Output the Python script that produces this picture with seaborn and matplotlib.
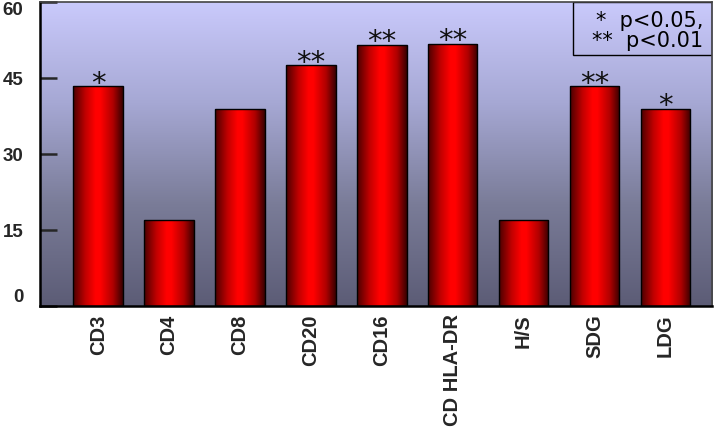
import numpy as np
import seaborn as sns
import matplotlib
matplotlib.use("Agg")
import matplotlib.pyplot as plt
import matplotlib.colors as mcolors
from matplotlib.patches import Rectangle

categories = ["CD3", "CD4", "CD8", "CD20", "CD16", "CD HLA-DR", "H/S", "SDG", "LDG"]
values = [43.4, 17.1, 39.0, 47.6, 51.6, 51.8, 17.1, 43.4, 39.0]
stars = ["*", "", "", "**", "**", "**", "", "**", "*"]
yticks = [0, 15, 30, 45, 60]
legend_lines = ["*  p<0.05,", "**  p<0.01"]

sns.set_style("white")
plt.rcParams["font.family"] = ["Liberation Sans", "DejaVu Sans"]

fig = plt.figure(figsize=(7.15, 4.30), dpi=100)
ax = fig.add_axes([0.056, 0.288, 0.940, 0.707])

sns.barplot(x=categories, y=values, ax=ax, color="red", edgecolor="black",
            linewidth=1.0, width=0.7, zorder=3)

# vertical background gradient (light lavender -> dark slate)
bg_cmap = mcolors.LinearSegmentedColormap.from_list(
    "bg", ["#5c5c76", "#7a7c98", "#a6a8d4", "#cacafc"])
bg = np.linspace(0, 1, 256).reshape(-1, 1)
ax.imshow(bg, extent=[0, 1, 0, 1], transform=ax.transAxes, aspect="auto",
          cmap=bg_cmap, origin="lower", zorder=0)

# horizontal shading inside each bar
bar_cmap = mcolors.LinearSegmentedColormap.from_list(
    "bar", [(0.0, "#4a0000"), (0.25, "#c00000"), (0.45, "#ff0000"),
            (0.55, "#ff0000"), (0.8, "#b00000"), (1.0, "#380000")])
grad = np.linspace(0, 1, 256).reshape(1, -1)
for patch in list(ax.patches):
    x0, y0 = patch.get_x(), patch.get_y()
    w, h = patch.get_width(), patch.get_height()
    patch.set_facecolor("none")
    im = ax.imshow(grad, extent=[x0, x0 + w, y0, y0 + h], aspect="auto",
                   cmap=bar_cmap, zorder=2.5)
    im.set_clip_path(patch)

for i, (v, s) in enumerate(zip(values, stars)):
    if s:
        ax.annotate(s, (i, v), xytext=(0, -4), textcoords="offset points",
                    ha="center", va="baseline", fontsize=21, color="#111111",
                    family=["DejaVu Sans"], zorder=4)

ax.set_xlim(-0.82, 8.66)
ax.set_ylim(0, 60)
ax.set_yticks(yticks)
ax.set_yticklabels([str(t) for t in yticks], fontsize=13.5, fontweight="bold")
labels = ax.get_yticklabels()
labels[0].set_va("bottom")
labels[-1].set_va("top")
ax.set_xticks(range(len(categories)))
ax.set_xticklabels(categories, rotation=90, fontsize=14.5, fontweight="bold")
ax.tick_params(axis="y", direction="in", length=12, width=1.8, pad=12, left=True)
ax.tick_params(axis="x", length=0, pad=6)
ax.set_xlabel("")
ax.set_ylabel("")

for side, spine in ax.spines.items():
    spine.set_visible(True)
    spine.set_edgecolor("black" if side in ("left", "bottom") else "#444444")
    spine.set_linewidth(1.8 if side in ("left", "bottom") else 1.2)
    spine.set_zorder(5)

# significance key box
ax.add_patch(Rectangle((0.793, 0.826), 0.207, 0.174, transform=ax.transAxes,
                       facecolor="none", edgecolor="black", linewidth=1.0,
                       zorder=5))
ax.text(0.987, 0.905, "\n".join(legend_lines), transform=ax.transAxes,
        ha="right", va="center", multialignment="right", linespacing=1.05,
        fontsize=15, color="black", family=["DejaVu Sans"], zorder=5)

fig.savefig("out.png", dpi=100)
